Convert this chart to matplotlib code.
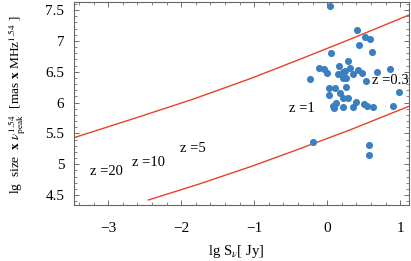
import matplotlib
matplotlib.use("Agg")
import matplotlib.pyplot as plt
from matplotlib.ticker import MultipleLocator, FuncFormatter

plt.rcParams['font.family'] = ['Liberation Serif', 'DejaVu Serif']
plt.rcParams['mathtext.fontset'] = 'stix'

# data points (lg S, lg size*nu^1.54)
xs = [0.04, 0.41, 0.52, 0.58, 0.43, 0.05, 0.61, 0.28, 0.16, 0.31, -0.11, -0.05, 0.0,
      0.15, 0.22, 0.25, 0.42, 0.47, 0.35, 0.68, 0.86, -0.23, 0.22, 0.26, 0.53, 0.26,
      0.02, 0.10, 0.03, 0.18, 0.21, 0.29, 0.98, 0.08, 0.12, 0.09, 0.22, 0.36, 0.40,
      0.51, 0.54, 0.63, 0.90, -0.20, 0.57, 0.57]
ys = [7.56, 7.17, 7.07, 7.03, 6.94, 6.81, 6.82, 6.68, 6.60, 6.56, 6.56, 6.54, 6.48,
      6.47, 6.50, 6.52, 6.53, 6.48, 6.46, 6.50, 6.54, 6.39, 6.40, 6.40, 6.35, 6.25,
      6.24, 6.23, 6.13, 6.15, 6.07, 6.07, 6.17, 5.95, 5.99, 5.91, 5.92, 5.93, 6.01,
      5.97, 5.94, 5.92, 5.95, 5.36, 5.31, 5.15]

# boundary curves
upper_x = [-3.47, -2.6, -1.85, -1.05, -0.4, 0.32, 1.12]
upper_y = [5.43, 5.76, 6.05, 6.39, 6.69, 7.03, 7.42]
lower_x = [-2.45, -1.75, -1.05, -0.4, 0.32, 1.12]
lower_y = [4.42, 4.68, 4.96, 5.24, 5.56, 5.94]

labels = ["z =20", "z =10", "z =5", "z =1", "z =0.3"]
label_x = [-3.25, -2.67, -2.02, -0.53, 0.61]
label_y = [4.88, 5.02, 5.25, 5.90, 6.35]

fig = plt.figure(figsize=(4.11, 2.61), dpi=100)
ax = fig.add_axes([0.18, 0.215, 0.815, 0.777])

ax.plot(upper_x, upper_y, color='#e8402a', lw=1.0)
ax.plot(lower_x, lower_y, color='#e8402a', lw=1.0)
ax.scatter(xs, ys, s=26, color='#3b7fc0', zorder=3, linewidths=0)

for t, x, y in zip(labels, label_x, label_y):
    ax.text(x, y, t, fontsize=10.5, ha='left', va='center', clip_on=False)

ax.set_xlim(-3.47, 1.12)
ax.set_ylim(4.34, 7.63)
ax.xaxis.set_major_locator(MultipleLocator(1))
ax.xaxis.set_minor_locator(MultipleLocator(0.2))
ax.yaxis.set_major_locator(MultipleLocator(0.5))
ax.yaxis.set_minor_locator(MultipleLocator(0.1))
fmt = FuncFormatter(lambda v, p: ("%g" % round(v, 2)).replace('-', '\u2212'))
ax.xaxis.set_major_formatter(fmt)
ax.yaxis.set_major_formatter(fmt)
ax.tick_params(which='both', direction='in', top=True, right=True, colors='#555555',
               labelcolor='black', labelsize=11)
ax.tick_params(which='major', length=3.5, width=0.6)
ax.tick_params(which='minor', length=2, width=0.5)
ax.tick_params(axis='x', which='major', pad=12)
ax.tick_params(axis='y', which='major', pad=7)
for sp in ax.spines.values():
    sp.set_color('#666666')
    sp.set_linewidth(0.8)

fig.text(0.575, 0.035, r"lg S$_\nu$[ Jy]", fontsize=10.5, ha='center', va='center')
fig.text(17 / 411, 1 - 105 / 261,
         r"lg  size  $\mathbf{x}$ $\nu^{1.54}_{\rm peak}$  [mas $\mathbf{x}$ MHz$^{1.54}$ ]",
         fontsize=9.6, rotation=90, ha='center', va='center')

fig.savefig("out.png", dpi=100)
